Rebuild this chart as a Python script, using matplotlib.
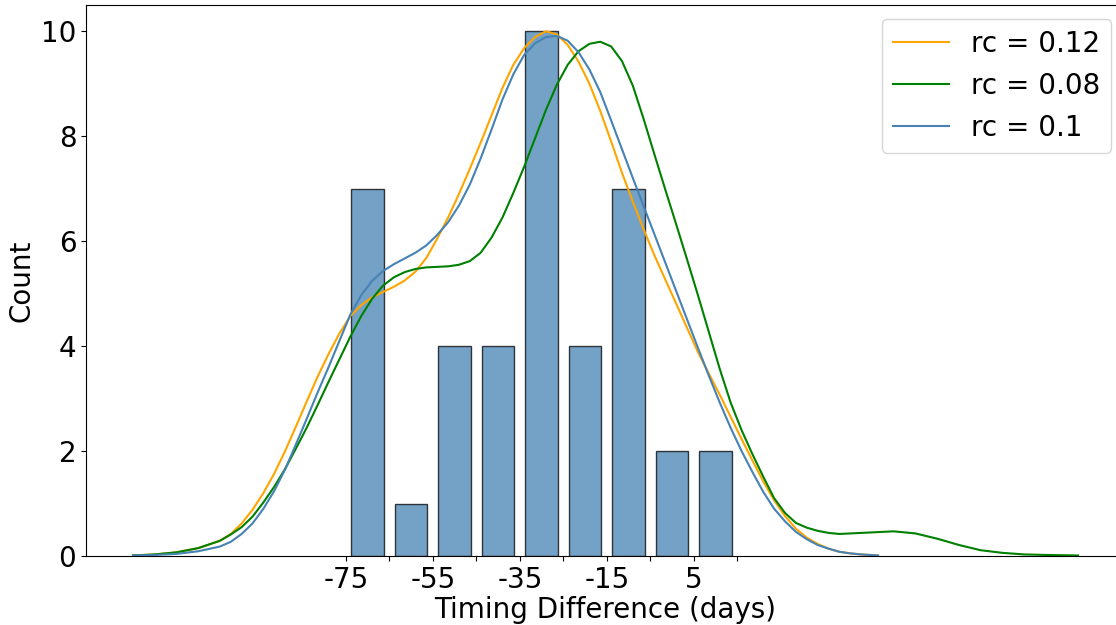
import matplotlib
matplotlib.use('Agg')
import matplotlib.pyplot as plt

# histogram: bin edges (days) and counts per bin
bin_edges = [-75, -65, -55, -45, -35, -25, -15, -5, 5, 15]
bin_mid = [-70, -60, -50, -40, -30, -20, -10, 0, 10]
counts = [7, 1, 4, 4, 10, 4, 7, 2, 2]

tick_lbl = ['-75', '', '-55', '', '-35', '', '-15', '', '5', '']

# density curves (days, count scale)
x_main = [-124, -119, -114, -109, -104, -101.5, -99, -96.5, -94, -91.5,
          -89, -86.5, -84, -81.5, -79, -76.5, -74, -71.5, -69, -66.5,
          -64, -61.5, -59, -56.5, -54, -51.5, -49, -46.5, -44, -41.5,
          -39, -36.5, -34, -31.5, -29, -26.5, -24, -21.5, -19, -16.5,
          -14, -11.5, -9, -6.5, -4, -1.5, 1, 3.5, 6, 8.5,
          11, 13.5, 16, 18.5, 21, 23.5, 26, 28.5, 31, 33.5,
          36, 38.5, 41, 43.5, 47.4]

y_rc012 = [0.01, 0.03, 0.07, 0.15, 0.29, 0.42, 0.62, 0.88, 1.20, 1.57,
           2.00, 2.47, 2.95, 3.42, 3.85, 4.24, 4.57, 4.78, 4.93, 5.03,
           5.13, 5.25, 5.42, 5.68, 6.05, 6.45, 6.90, 7.38, 7.88, 8.40,
           8.92, 9.36, 9.68, 9.89, 10.0, 9.94, 9.74, 9.42, 9.00, 8.48,
           7.90, 7.30, 6.75, 6.22, 5.72, 5.26, 4.80, 4.34, 3.88, 3.47,
           3.07, 2.65, 2.23, 1.82, 1.42, 1.06, 0.76, 0.52, 0.35, 0.23,
           0.14, 0.08, 0.05, 0.03, 0.01]

y_rc010 = [0.01, 0.02, 0.04, 0.09, 0.18, 0.27, 0.42, 0.62, 0.90, 1.24,
           1.65, 2.13, 2.62, 3.12, 3.60, 4.10, 4.60, 4.97, 5.24, 5.43,
           5.56, 5.67, 5.78, 5.92, 6.12, 6.36, 6.68, 7.08, 7.58, 8.13,
           8.70, 9.18, 9.55, 9.77, 9.89, 9.91, 9.82, 9.60, 9.27, 8.84,
           8.30, 7.75, 7.20, 6.66, 6.12, 5.58, 5.04, 4.50, 3.96, 3.43,
           2.92, 2.44, 2.00, 1.60, 1.22, 0.90, 0.66, 0.46, 0.32, 0.21,
           0.14, 0.08, 0.05, 0.03, 0.01]

x_rc008 = x_main[:-1] + [46, 51, 56, 61, 66, 71, 76, 81, 86, 93.4]
y_rc008 = [0.01, 0.03, 0.07, 0.15, 0.29, 0.41, 0.55, 0.75, 1.02, 1.32,
           1.66, 2.05, 2.45, 2.88, 3.32, 3.75, 4.18, 4.57, 4.90, 5.15,
           5.31, 5.41, 5.47, 5.50, 5.51, 5.52, 5.55, 5.62, 5.78, 6.07,
           6.45, 6.92, 7.42, 7.96, 8.50, 8.98, 9.36, 9.62, 9.76, 9.80,
           9.71, 9.43, 8.96, 8.32, 7.64, 6.97, 6.31, 5.64, 4.96, 4.26,
           3.56, 2.92, 2.40, 1.94, 1.51, 1.10, 0.82, 0.63, 0.54, 0.48,
           0.44, 0.42, 0.43, 0.44,
           0.45, 0.47, 0.43, 0.33, 0.21, 0.11, 0.06, 0.03, 0.02, 0.01]

fig = plt.figure(figsize=(11.16, 6.25), dpi=100)
ax = fig.add_axes([86/1116, 69/625, 1039/1116, 551/625])

ax.hist(bin_mid, bins=bin_edges, weights=counts, rwidth=0.75,
        color='steelblue', alpha=0.75, edgecolor='black', linewidth=1)

ax.plot(x_main, y_rc012, color='orange', lw=1.5, label='rc = 0.12')
ax.plot(x_rc008, y_rc008, color='green', lw=1.5, label='rc = 0.08')
ax.plot(x_main, y_rc010, color='steelblue', lw=1.5, label='rc = 0.1')

ax.set_xlim(-134.8, 104.2)
ax.set_ylim(0, 10.5)
ax.set_xticks(bin_edges)
ax.set_xticklabels(tick_lbl)
ax.tick_params(labelsize=20)
ax.set_xlabel('Timing Difference (days)', fontsize=20, labelpad=2)
ax.set_ylabel('Count', fontsize=20)
ax.legend(loc='upper right', fontsize=20)

fig.savefig('out.png', dpi=100)
